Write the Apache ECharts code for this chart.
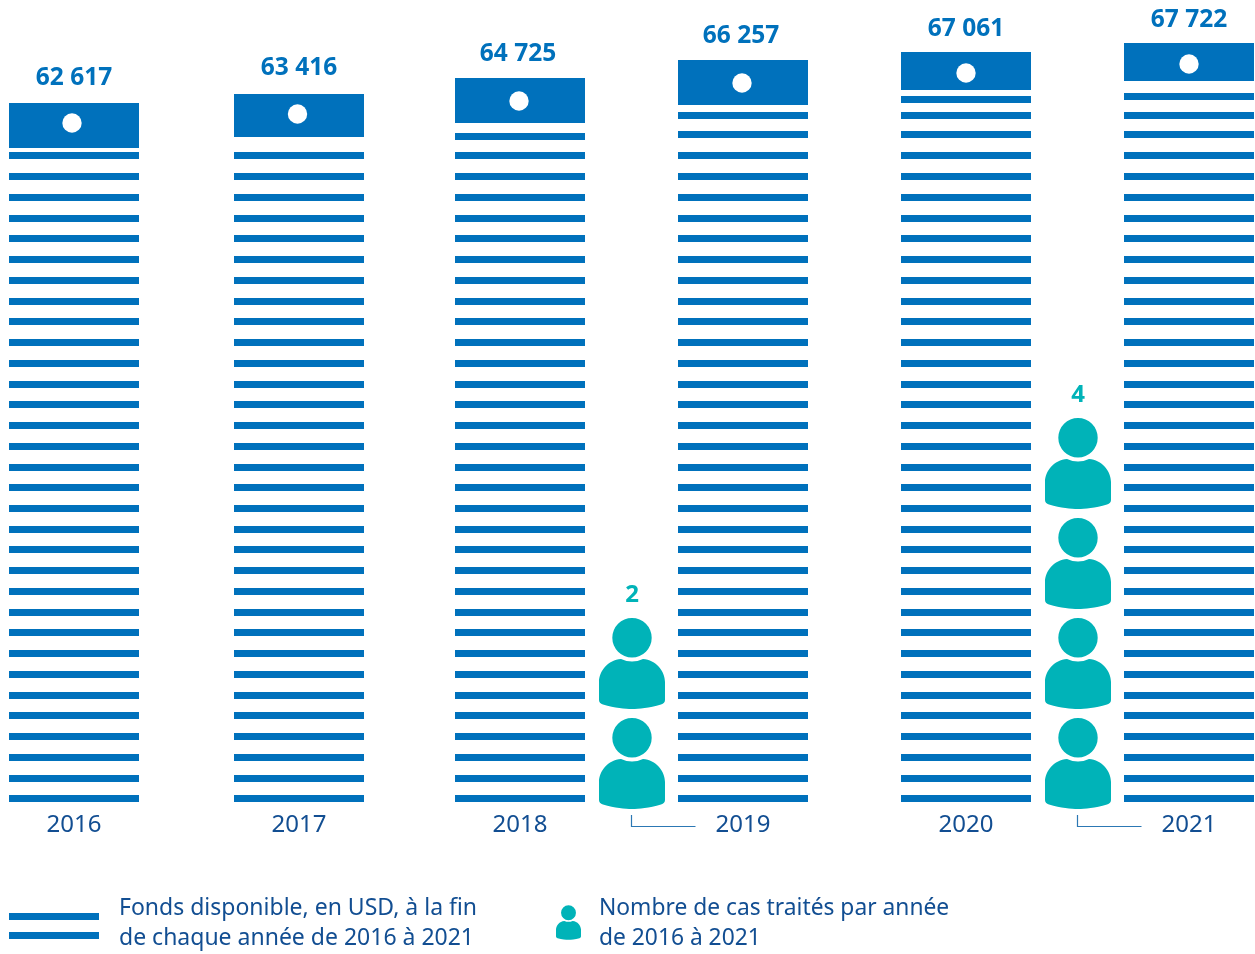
<!DOCTYPE html>
<html>
<head>
<meta charset="utf-8">
<style>html,body{margin:0;padding:0;background:#fff}#chart{width:1255px;height:954px}</style>
<script src="https://cdn.jsdelivr.net/npm/echarts@6/dist/echarts.min.js"></script>
</head>
<body>
<div id="chart"></div>
<script>
// ---- data ----
var years = ['2016', '2017', '2018', '2019', '2020', '2021'];
var funds = [62617, 63416, 64725, 66257, 67061, 67722];
var caseYears = ['2016', '2017', '2018', '2019', '2020'];
var cases = [null, null, 2, null, 4];
var fundsName = 'Fonds disponible, en USD, à la fin\nde chaque année de 2016 à 2021';
var casesName = 'Nombre de cas traités par année\nde 2016 à 2021';

// ---- styling ----
var BLUE = '#0071BC', TEAL = '#00B3B8', INK = '#124E92';
var FONT = '"Noto Sans", sans-serif';
var PERSON = 'path://M13.3 19.7A19.7 19.7 0 1 1 52.7 19.7A19.7 19.7 0 1 1 13.3 19.7Z' +
  'M22 41Q33 46 44 41C57 42 66 53 66 64L66 82Q66 85 62 86.5C50 90 40 91 33 91C26 91 16 90 4 86.5Q0 85 0 82L0 64C0 53 9 42 22 41Z';
var PERSON_ICON = PERSON + 'M0 98.4L0.01 98.4L0.01 98.41Z';
var STRIPES = 'path://M0 0L0.01 0L0.01 0.01ZM0 6L90 6L90 13L0 13ZM0 25L90 25L90 32L0 32Z';

var AXIS_MIN = 3100, AXIS_MAX = 71400;
var STRIPE_STEP = 1766, STRIPE_ROWS = 32, STRIPE_H = 7, COL_W = 130;
var look = {               // per-column drawing adjustments, in pixels
  nudge:   [0, 2, 0, 0, 0, 0],
  topDy:   [0, 0, 0, 0, 1, 0],
  blockH:  [45, 43, 45, 45, 38, 38],
  dotDx:   [-2, -1.5, -1, -1, 0, 0],
  dotDy:   [-2.5, -1.5, 0.5, 0.5, 2, 2],
  labelDx: [0, 0, -2, -2, 0, 0],
  labelDy: [25, 26, 24, 24, 23, 23],
  rises:   [[], [], [19], [21, 40], [21, 40, 56], [21, 40, 59]]
};

function renderFunds(params, api) {
  var i = api.value(0);
  var nudge = look.nudge[i];
  var cx = api.coord([i, AXIS_MIN])[0] + nudge;
  var left = cx - COL_W / 2;
  var kids = [];
  var rowStyle = { fill: BLUE };
  var lastTop = 0;
  for (var r = 0; r < STRIPE_ROWS; r++) {
    var bottom = api.coord([i, AXIS_MIN + r * STRIPE_STEP])[1];
    var top = Math.round(bottom - STRIPE_H + 0.3);
    lastTop = top;
    kids.push({ type: 'rect', shape: { x: left, y: top, width: COL_W, height: STRIPE_H }, style: rowStyle });
  }
  look.rises[i].forEach(function (rise) {
    kids.push({ type: 'rect', shape: { x: left, y: lastTop - rise, width: COL_W, height: STRIPE_H }, style: rowStyle });
  });
  var blockTop = Math.round(api.coord([i, api.value(1)])[1]) + look.topDy[i];
  var h = look.blockH[i];
  kids.push({ type: 'rect', shape: { x: left, y: blockTop, width: COL_W, height: h }, style: rowStyle });
  kids.push({ type: 'circle',
    shape: { cx: cx + look.dotDx[i], cy: blockTop + h / 2 + look.dotDy[i], r: 9.7 },
    style: { fill: '#fff' } });
  kids.push({ type: 'text',
    style: {
      x: cx + look.labelDx[i], y: blockTop - look.labelDy[i],
      text: String(api.value(1)).replace(/(\d{2})(\d{3})/, '$1 $2'),
      fill: BLUE, font: 'bold 24.5px ' + FONT, align: 'center', verticalAlign: 'middle'
    } });
  return { type: 'group', children: kids };
}

function renderBracket(params, api) {
  var p = api.coord([api.value(0), 0]);
  var x = Math.round(p[0]) - 0.5, y = Math.round(p[1]);
  return { type: 'polyline',
    shape: { points: [[x, y + 1], [x, y + 12.5], [x + 64, y + 12.5]] },
    style: { stroke: '#2C78B4', lineWidth: 1.2, fill: null } };
}

var chart = echarts.init(document.getElementById('chart'), null, { renderer: 'canvas' });
chart.setOption({
  animation: false,
  backgroundColor: '#fff',
  grid: [
    { left: 74, width: 1115, top: 0, height: 802 },
    { left: 186, width: 892, top: 13.5, height: 800 }
  ],
  xAxis: [
    { type: 'category', gridIndex: 0, data: years, boundaryGap: false,
      axisLine: { show: false }, axisTick: { show: false }, splitLine: { show: false },
      axisLabel: { show: true, interval: 0, color: INK, fontFamily: FONT, fontSize: 24, margin: 11,
        hideOverlap: false,
        formatter: function (v) { return v === '2017' ? '{n|' + v + '}' : v; },
        rich: { n: { color: INK, fontFamily: FONT, fontSize: 24, padding: [0, 0, 0, 4] } } } },
    { type: 'category', gridIndex: 1, data: caseYears, boundaryGap: false, show: false }
  ],
  yAxis: [
    { type: 'value', gridIndex: 0, min: AXIS_MIN, max: AXIS_MAX, show: false },
    { type: 'value', gridIndex: 1, min: 0, max: 8, show: false }
  ],
  legend: [
    { left: 9, top: 893, itemWidth: 90, itemHeight: 32, padding: 0, selectedMode: false,
      data: [{ name: fundsName, icon: STRIPES }],
      textStyle: { color: INK, fontFamily: FONT, fontSize: 23, lineHeight: 30, padding: [0, 0, 0, 15] } },
    { left: 556, top: 894, itemWidth: 25, itemHeight: 40, padding: 0, selectedMode: false,
      data: [{ name: casesName, icon: PERSON_ICON }],
      textStyle: { color: INK, fontFamily: FONT, fontSize: 22.8, lineHeight: 30, padding: [0, 0, 0, 13] } }
  ],
  series: [
    { name: fundsName, type: 'custom', xAxisIndex: 0, yAxisIndex: 0, clip: false,
      itemStyle: { color: BLUE },
      data: years.map(function (y, i) { return [i, funds[i]]; }),
      encode: { x: 0, y: 1 }, renderItem: renderFunds },
    { name: casesName, type: 'pictorialBar', xAxisIndex: 1, yAxisIndex: 1,
      data: cases, symbol: PERSON, symbolRepeat: true, symbolSize: [66, 91], symbolMargin: '4.5!',
      symbolPosition: 'start', barWidth: 66, clip: false,
      itemStyle: { color: TEAL },
      label: { show: true, position: 'top', distance: 6, color: TEAL, fontFamily: FONT, fontWeight: 'bold', fontSize: 24 } },
    { type: 'custom', xAxisIndex: 1, yAxisIndex: 1, clip: false,
      data: cases.map(function (c, i) { return c === null ? null : [i, c]; }).filter(Boolean),
      encode: { x: 0, y: 1 }, renderItem: renderBracket }
  ]
});
</script>
</body>
</html>
